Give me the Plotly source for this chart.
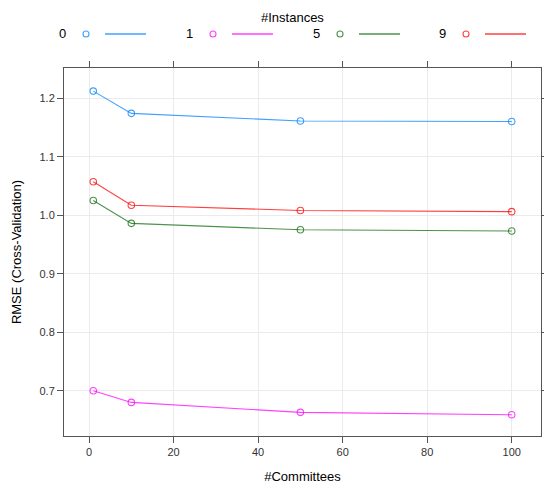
import plotly.graph_objects as go

committees = [1, 10, 50, 100]
instances = ["0", "1", "5", "9"]
rmse_0 = [1.212, 1.174, 1.161, 1.160]
rmse_1 = [0.700, 0.680, 0.663, 0.659]
rmse_5 = [1.025, 0.986, 0.975, 0.973]
rmse_9 = [1.057, 1.017, 1.008, 1.006]
series = [rmse_0, rmse_1, rmse_5, rmse_9]
colors = ["rgba(0,128,255,0.75)", "rgba(255,0,255,0.75)", "rgba(0,100,0,0.7)", "rgba(255,0,0,0.75)"]
x_ticks = [0, 20, 40, 60, 80, 100]
y_ticks = [0.7, 0.8, 0.9, 1.0, 1.1, 1.2]

fig = go.Figure()
for name, vals, col in zip(instances, series, colors):
    fig.add_trace(go.Scatter(
        x=committees, y=vals, mode="lines+markers", name=name,
        line=dict(color=col, width=1.1),
        marker=dict(symbol="circle-open", size=6.5, color=col, line=dict(width=1.1, color=col)),
        showlegend=False))

W, H = 544, 489
L, R, T, B = 64, 3, 68, 53
pw, ph = W - L - R, H - T - B

def px_x(p):
    return (p - L) / pw

def px_y(p):
    return (H - B - p) / ph

font = "Liberation Sans, Arial, sans-serif"
annotations = [dict(text="#Instances", x=px_x(292), y=px_y(17), xref="paper", yref="paper",
                    xanchor="center", yanchor="middle",
                    showarrow=False, font=dict(family=font, size=13, color="#000"))]
shapes = []
starts = [62, 189, 316, 442]
for i, (name, col) in enumerate(zip(instances, colors)):
    s = starts[i]
    annotations.append(dict(text=name, x=px_x(s), y=px_y(34), xref="paper", yref="paper",
                            xanchor="center", yanchor="middle",
                            showarrow=False, font=dict(family=font, size=13, color="#000")))
    shapes.append(dict(type="circle", xref="paper", yref="paper", xsizemode="pixel", ysizemode="pixel",
                       xanchor=px_x(s + 24), yanchor=px_y(34), x0=-3, x1=3, y0=-3, y1=3,
                       line=dict(color=col, width=1.1)))
    shapes.append(dict(type="line", xref="paper", yref="paper", x0=px_x(s + 43), x1=px_x(s + 84),
                       y0=px_y(34), y1=px_y(34), line=dict(color=col, width=1.5)))

fig.update_layout(
    width=W, height=H, margin=dict(l=L, r=R, t=T, b=B, autoexpand=False),
    paper_bgcolor="white", plot_bgcolor="white",
    font=dict(family=font, size=11, color="#333"),
    annotations=annotations, shapes=shapes,
    xaxis=dict(range=[-5.93, 106.93], tickvals=x_ticks, ticks="outside", ticklen=6, tickcolor="#555",
               showline=True, linecolor="#555", linewidth=1, mirror="ticks", automargin=False,
               showgrid=True, gridcolor="#ebebeb", gridwidth=1, zeroline=False,
               title=dict(text="#Committees", font=dict(size=13, color="#000"), standoff=14),
               tickfont=dict(size=11, color="#333")),
    yaxis=dict(range=[0.6226, 1.2515], tickvals=y_ticks, tickformat=".1f", ticks="outside", ticklen=6,
               tickcolor="#555", showline=True, linecolor="#555", linewidth=1, mirror="ticks", automargin=False,
               showgrid=True, gridcolor="#ebebeb", gridwidth=1, zeroline=False,
               title=dict(text="RMSE (Cross-Validation)", font=dict(size=13, color="#000"), standoff=14),
               tickfont=dict(size=11, color="#333")),
)

fig.write_html("out.html", config={"displayModeBar": False},
               post_script="document.body.style.margin='0';")
